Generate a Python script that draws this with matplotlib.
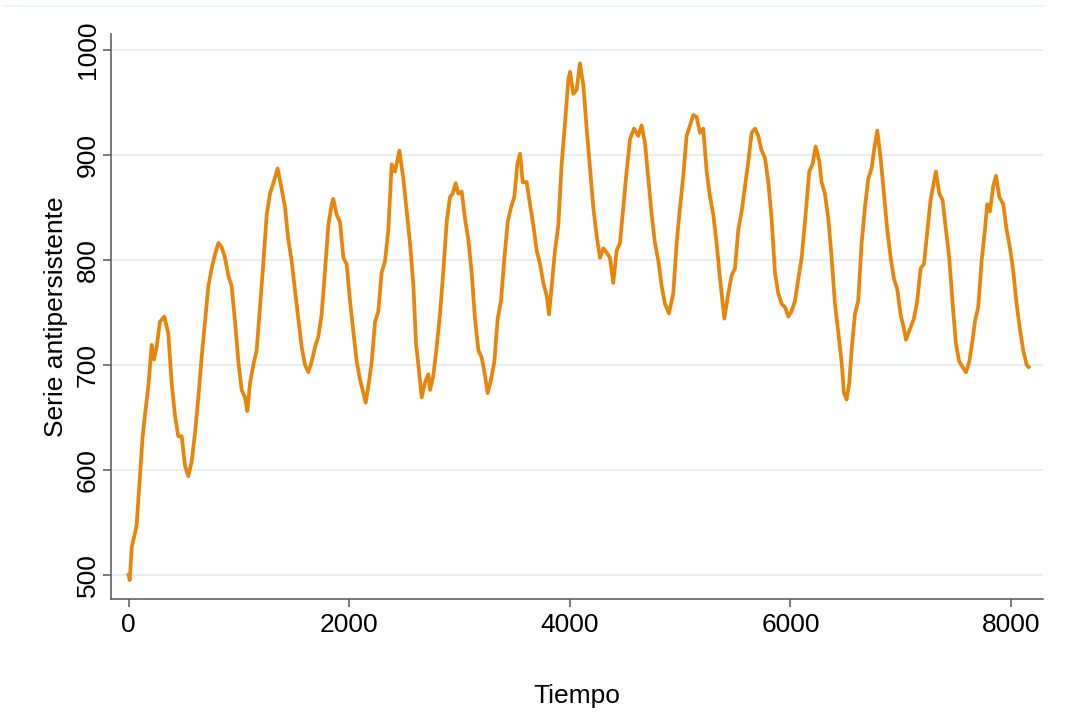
import matplotlib.pyplot as plt
from matplotlib.lines import Line2D
import numpy as np

plt.rcParams['font.family'] = ['Liberation Sans', 'DejaVu Sans']

# valores (tiempo, serie)
tiempo = [0, 10, 28, 58, 73, 103, 127, 148, 179, 209, 230, 254, 284, 323, 360, 390, 420, 450, 481,
          511, 541, 572, 602, 632, 662, 692, 723, 753, 783, 814, 844, 874, 904, 934, 965, 995,
          1025, 1055, 1077, 1101, 1131, 1161, 1191, 1221, 1252, 1282, 1312, 1351, 1388, 1418,
          1448, 1478, 1508, 1539, 1569, 1599, 1629, 1660, 1690, 1720, 1750, 1780, 1811, 1841,
          1856, 1886, 1917, 1947, 1977, 2007, 2038, 2068, 2098, 2128, 2149, 2174, 2204, 2234,
          2264, 2294, 2325, 2355, 2385, 2415, 2455, 2491, 2521, 2551, 2582, 2606, 2627, 2657,
          2687, 2717, 2733, 2763, 2793, 2823, 2853, 2884, 2914, 2938, 2965, 2989, 3020, 3050,
          3080, 3110, 3140, 3171, 3201, 3231, 3255, 3286, 3316, 3346, 3376, 3407, 3437, 3467,
          3497, 3524, 3549, 3573, 3609, 3639, 3669, 3700, 3730, 3760, 3790, 3812, 3836, 3866,
          3896, 3926, 3957, 3987, 4002, 4032, 4062, 4092, 4123, 4153, 4183, 4213, 4243, 4274,
          4304, 4334, 4364, 4394, 4425, 4455, 4485, 4515, 4546, 4582, 4621, 4651, 4682, 4712,
          4742, 4772, 4803, 4833, 4863, 4899, 4938, 4969, 4999, 5029, 5059, 5090, 5120, 5150,
          5180, 5210, 5241, 5271, 5301, 5331, 5362, 5401, 5437, 5467, 5498, 5528, 5558, 5588,
          5619, 5649, 5679, 5709, 5739, 5770, 5800, 5830, 5860, 5890, 5921, 5951, 5981, 6011,
          6042, 6072, 6102, 6132, 6171, 6201, 6229, 6262, 6283, 6313, 6344, 6374, 6404, 6434,
          6464, 6486, 6510, 6534, 6555, 6585, 6615, 6646, 6676, 6706, 6736, 6758, 6788, 6818,
          6848, 6878, 6909, 6939, 6969, 6999, 7030, 7048, 7084, 7120, 7150, 7181, 7211, 7241,
          7271, 7301, 7320, 7350, 7380, 7410, 7440, 7471, 7501, 7531, 7561, 7592, 7622, 7652,
          7673, 7703, 7734, 7764, 7785, 7809, 7839, 7864, 7894, 7930, 7960, 7990, 8021, 8051,
          8081, 8111, 8142, 8160]
serie = [500, 495, 526, 540, 548, 595, 632, 652, 680, 719, 705, 717, 741, 746, 730, 683, 652, 632, 632,
         604, 594, 608, 635, 669, 707, 741, 775, 792, 805, 816, 812, 802, 785, 775, 741, 703,
         676, 669, 656, 683, 700, 714, 755, 796, 843, 863, 873, 887, 867, 850,
         819, 799, 771, 744, 717, 700, 693, 703, 717, 727, 748, 789, 833, 853,
         858, 843, 836, 802, 796, 761, 731, 703, 686, 673, 664, 680, 703, 741,
         751, 788, 799, 829, 891, 884, 904, 877, 846, 816, 775, 720, 700, 669,
         683, 691, 676, 690, 717, 748, 789, 836, 860, 863, 873, 863, 865, 839,
         819, 788, 744, 714, 707, 690, 673, 686, 703, 744, 761, 802, 836, 850,
         860, 891, 901, 874, 874, 853, 833, 809, 796, 778, 766, 748, 775, 809,
         833, 891, 931, 972, 979, 958, 962, 987, 966, 925, 887, 850, 823, 802,
         811, 807, 802, 778, 809, 816, 850, 884, 915, 925, 918, 928, 911, 877,
         843, 816, 799, 775, 758, 749, 768, 816, 850, 880, 918, 928, 938, 936,
         921, 925, 884, 860, 843, 816, 782, 744, 768, 785, 792, 829, 846, 870,
         894, 921, 925, 918, 904, 897, 874, 839, 788, 768, 758, 755, 746, 751,
         761, 782, 802, 836, 884, 891, 908, 894, 874, 863, 839, 802, 758, 731,
         703, 673, 667, 683, 714, 748, 761, 816, 850, 877, 887, 904, 923, 897,
         863, 829, 802, 782, 772, 748, 734, 724, 734, 744, 761, 792, 796, 826,
         857, 874, 884, 863, 857, 829, 802, 758, 720, 703, 698, 693, 703, 724,
         741, 755, 799, 829, 853, 846, 870, 880, 860, 853, 829, 812, 789, 758,
         734, 714, 700, 698]

fig = plt.figure(figsize=(10.65, 7.15), dpi=100)
ax = fig.add_axes([0.1042, 0.1622, 0.8751, 0.7902])

ax.plot(tiempo, serie, color='#e8860c', linewidth=2.7, solid_joinstyle='round')

ax.set_xlim(-160, 8290)
ax.set_ylim(477, 1015)
ax.set_xticks([0, 2000, 4000, 6000, 8000])
ax.set_yticks([500, 600, 700, 800, 900, 1000])
ax.grid(axis='y', color='#e7eff2', linewidth=1.5)
ax.set_axisbelow(True)

for s in ['top', 'right']:
    ax.spines[s].set_visible(False)
for s in ['left', 'bottom']:
    ax.spines[s].set_color('#555555')
    ax.spines[s].set_linewidth(1.1)

ax.tick_params(axis='both', labelsize=19, length=6, width=1.1, color='#555555', pad=4)
ax.tick_params(axis='y', pad=2)
plt.setp(ax.get_yticklabels(), rotation=90, va='center')

ax.set_xlabel('Tiempo', fontsize=19, labelpad=34)
ax.set_ylabel('Serie antipersistente', fontsize=19, labelpad=6)

# borde superior claro
fig.add_artist(Line2D([0.003, 0.981], [0.9916, 0.9916], color='#eef3f3', linewidth=1.2))

fig.savefig('out.png', dpi=100)
